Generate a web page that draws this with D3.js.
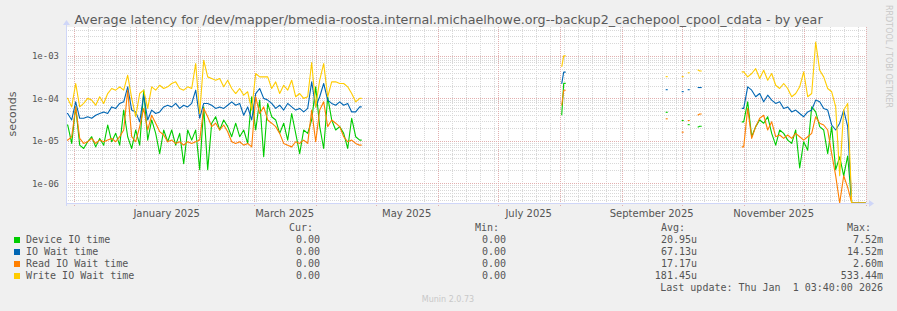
<!DOCTYPE html>
<html>
<head>
<meta charset="utf-8">
<script src="https://cdn.jsdelivr.net/npm/d3@7/dist/d3.min.js"></script>
<style>
    body { margin: 0; background: #F0F0F0; }
    svg { display: block; }
</style>
</head>
<body>
<svg id="CANVAS" width="897" height="311"></svg>
<script>

    // ---- data (microseconds) ----
    // Nov 27 2024 .. Apr 2025, one value every 2 days
    var seg1Start = "2024-11-27";
    var deviceA = [23.6, 8.7, 63, 7.9, 6.6, 9.5, 12.5, 7.2, 11.4, 7.9,
        23.6, 9.5, 15, 7.9, 53, 12.5, 6.6, 18, 7.9, 156,
        10.4, 31, 15, 5.0, 18, 9.5, 18, 7.9, 15, 2.9,
        18, 10.4, 18, 2.1, 63, 2.1, 26, 37, 18, 31,
        21.6, 12.5, 26, 12.5, 18, 8.7, 109, 18, 91, 4.2,
        76, 37, 31, 15, 26, 10.4, 44, 15, 5.0, 18,
        15, 31, 187, 21.6, 6.6, 109, 31, 18, 21.6, 15,
        6.6, 34, 12.5, 10.4];
    var waitA = [44, 31, 83, 34, 34, 37, 34, 40, 44, 48,
        44, 63, 58, 76, 83, 187, 53, 48, 28, 119,
        31, 53, 44, 48, 63, 69, 63, 76, 58, 69,
        63, 76, 156, 34, 76, 76, 69, 58, 63, 58,
        69, 83, 69, 76, 40, 63, 31, 130, 171, 100,
        91, 76, 58, 69, 53, 76, 63, 53, 58, 48,
        58, 245, 63, 109, 224, 91, 76, 69, 83, 69,
        76, 48, 48, 63];
    var readA = [10.4, 12.5, 63, 11.4, 8.7, 9.5, 11.4, 8.7, 10.4, 9.5,
        10.4, 11.4, 9.5, 12.5, 18, 156, 12.5, 9.5, 21.6, 58,
        18, 40, 26, 16.4, 13.7, 9.5, 10.4, 8.7, 9.5, 7.9,
        9.5, 8.7, 9.5, 10.4, 58, 37, 21.6, 26, 18, 23.6,
        16.4, 9.5, 8.7, 9.5, 7.9, 8.7, 7.2, 109, 44, 63,
        31, 26, 21.6, 15, 8.7, 7.9, 7.2, 9.5, 8.7, 10.4,
        8.7, 53, 9.5, 53, 83, 21.6, 31, 26, 21.6, 12.5,
        9.5, 10.4, 8.7, 7.9];
    var writeA = [100, 63, 224, 63, 76, 100, 91, 69, 109, 76,
        130, 171, 156, 187, 156, 351, 100, 37, 130, 156,
        58, 187, 156, 204, 171, 187, 224, 245, 171, 156,
        187, 171, 660, 44, 791, 321, 293, 268, 293, 187,
        268, 171, 130, 171, 119, 143, 53, 385, 321, 321,
        321, 171, 245, 130, 204, 156, 268, 109, 130, 100,
        109, 700, 63, 268, 660, 109, 245, 245, 224, 224,
        187, 130, 83, 100];

    // August blip, daily
    var seg2Dates = ["2025-08-02", "2025-08-03"];
    var deviceB = [40, 225];
    var waitB = [220, 415];
    var readB = [68, 155];
    var writeB = [550, 1000];

    // scattered single days, Sep/Oct
    var seg3Dates = ["2025-09-23", "2025-10-01", "2025-10-04", "2025-10-09", "2025-10-10"];
    var deviceC = [47, 30, 24, 21, 22];
    var waitC = [160, 144, 160, 180, 180];
    var readC = [33, 16, 30, 40, 43];
    var writeC = [325, 325, 400, 470, 440];

    // Oct 31 2025 .. end, one value every 2 days
    var seg4Start = "2025-10-31";
    var deviceD = [28, 83, 12.5, 21.6, 31, 26, 37, 15, 7.9, 18, 15, 10.4, 8.7, 18, 2.3, 9.5, 6, 63, 48, 21.6,
        18, 5.0, 21.6, 2.1, 4.2, 1.5, 4.4, 0, 0, 0, 0];
    var waitD = [58, 187, 156, 109, 130, 83, 119, 91, 76, 83, 58, 63, 48, 53, 44, 37, 48, 53, 91, 83,
        58, 53, 23.6, 18, 26, 53, 21.6, 0, 0, 0, 0];
    var readD = [7.2, 58, 11.4, 21.6, 34, 40, 18, 28, 12.5, 13.7, 11.4, 13.7, 11.4, 15, 12.5, 10.4, 12.5, 15, 37, 26,
        23.6, 18, 5.0, 1.5, 0, 1.5, 0.8, 0, 0, 0, 0];
    var writeD = [420, 321, 385, 500, 293, 460, 268, 385, 204, 171, 224, 171, 109, 130, 187, 420, 109, 130, 2130, 460,
        321, 171, 143, 63, 1.5, 53, 76, 0, 0, 0, 0];

    var names = ["Device IO time", "IO Wait time", "Read IO Wait time", "Write IO Wait time"];
    var colors = ["#00CC00", "#0066B3", "#FF8000", "#FFCC00"];
    var curTxt = ["0.00", "0.00", "0.00", "0.00"];
    var minTxt = ["0.00", "0.00", "0.00", "0.00"];
    var avgTxt = ["20.95u", "67.13u", "17.17u", "181.45u"];
    var maxTxt = ["7.52m", "14.52m", "2.60m", "533.44m"];
    var xLabelMonths = ["2025-01-01", "2025-03-01", "2025-05-01", "2025-07-01", "2025-09-01", "2025-11-01"];

    // ---- layout ----
    var W = 897, H = 311;
    var L = 66, R = 866, T = 27, B = 203;
    var AXIS = "#CFD6F8";

    var x = d3.scaleUtc()
        .domain([new Date("2024-11-27T03:40:00Z"), new Date("2026-01-01T03:40:00Z")])
        .range([L, R]);
    var y = d3.scaleLog()
        .domain([3.43e-7, 4.8e-3])
        .range([B, T]);
    var yMin = y.domain()[0];

    function pts(dates, vals, step) {
        return vals.map(function (v, i) {
            return { t: dates[i], v: v * 1e-6, step: step };
        });
    }
    function every(start, n, step) {
        var d0 = new Date(start + "T00:00:00Z");
        return d3.range(n).map(function (i) { return d3.utcDay.offset(d0, i * step); });
    }
    function parse(list) {
        return list.map(function (s) { return new Date(s + "T00:00:00Z"); });
    }

    var series = [
        [deviceA, deviceB, deviceC, deviceD],
        [waitA, waitB, waitC, waitD],
        [readA, readB, readC, readD],
        [writeA, writeB, writeC, writeD]
    ].map(function (s) {
        return pts(every(seg1Start, s[0].length, 2), s[0], 2)
            .concat(pts(parse(seg2Dates), s[1], 1))
            .concat(pts(parse(seg3Dates), s[2], 1))
            .concat(pts(every(seg4Start, s[3].length, 2), s[3], 2));
    });

    // split into runs of consecutive days
    function runs(p) {
        var out = [];
        p.forEach(function (d, i) {
            var joined = i > 0 && +d3.utcDay.offset(p[i - 1].t, p[i - 1].step) === +d.t;
            if (!joined) out.push([]);
            out[out.length - 1].push(d);
        });
        return out;
    }
    var yv = function (d) { return y(Math.max(d.v, yMin)); };
    var mid = function (d) { return x(d3.utcDay.offset(d.t, d.step / 2)); };

    // each run: flat start, straight segments between day centres, flat end
    function runPath(r) {
        var first = r[0], last = r[r.length - 1];
        var p = [[x(first.t), yv(first)]];
        r.forEach(function (d) { p.push([mid(d), yv(d)]); });
        p.push([x(d3.utcDay.offset(last.t, last.step)), yv(last)]);
        return d3.line()(p);
    }

    var svg = d3.select("#CANVAS");
    svg.append("rect").attr("width", W).attr("height", H).attr("fill", "#F0F0F0");
    svg.append("rect").attr("x", L).attr("y", T).attr("width", R - L).attr("height", B - T).attr("fill", "#FFFFFF");

    svg.append("defs").append("clipPath").attr("id", "plotclip")
        .append("rect").attr("x", L).attr("y", T - 1).attr("width", R - L).attr("height", B - T + 1);

    // ---- grid ----
    var grid = svg.append("g").attr("shape-rendering", "crispEdges");
    var yt = y.ticks();
    var isMajor = function (v) { return Math.abs(Math.log10(v) - Math.round(Math.log10(v))) < 1e-9; };
    var weeks = d3.utcSunday.range(x.domain()[0], x.domain()[1]);
    var months = d3.utcMonth.range(x.domain()[0], x.domain()[1]);

    grid.selectAll("line.hmin").data(yt.filter(function (v) { return !isMajor(v); }))
        .enter().append("line")
        .attr("x1", L).attr("x2", R)
        .attr("y1", function (d) { return Math.round(y(d)) + 0.5; })
        .attr("y2", function (d) { return Math.round(y(d)) + 0.5; })
        .attr("stroke", "#D8D8D8").attr("stroke-dasharray", "1,1");
    grid.selectAll("line.vmin").data(weeks)
        .enter().append("line")
        .attr("x1", function (d) { return Math.round(x(d)) + 0.5; })
        .attr("x2", function (d) { return Math.round(x(d)) + 0.5; })
        .attr("y1", T).attr("y2", B + 2)
        .attr("stroke", "#D8D8D8").attr("stroke-dasharray", "1,1");
    grid.selectAll("line.hmaj").data(yt.filter(isMajor))
        .enter().append("line")
        .attr("x1", L).attr("x2", R)
        .attr("y1", function (d) { return Math.round(y(d)) + 0.5; })
        .attr("y2", function (d) { return Math.round(y(d)) + 0.5; })
        .attr("stroke", "#E2AFAF").attr("stroke-dasharray", "1,1");
    grid.selectAll("line.vmaj").data(months)
        .enter().append("line")
        .attr("x1", function (d) { return Math.round(x(d)) + 0.5; })
        .attr("x2", function (d) { return Math.round(x(d)) + 0.5; })
        .attr("y1", T).attr("y2", B + 3)
        .attr("stroke", "#E2AFAF").attr("stroke-dasharray", "1,1");

    // ---- lines ----
    var lines = svg.append("g").attr("clip-path", "url(#plotclip)");
    series.forEach(function (p, i) {
        lines.selectAll(null).data(runs(p)).enter().append("path")
            .attr("d", runPath)
            .attr("fill", "none")
            .attr("stroke", colors[i])
            .attr("stroke-width", 1.1)
            .attr("stroke-linejoin", "round");
    });

    // ---- axes ----
    svg.append("line").attr("x1", L).attr("x2", R + 3).attr("y1", B + 0.5).attr("y2", B + 0.5)
        .attr("stroke", AXIS);
    svg.append("path").attr("d", "M" + (R + 3) + "," + (B - 3) + "L" + (R + 8) + "," + (B + 0.5) + "L" + (R + 3) + "," + (B + 4) + "Z")
        .attr("fill", AXIS);
    svg.append("line").attr("x1", L + 0.5).attr("x2", L + 0.5).attr("y1", B + 3).attr("y2", T - 2)
        .attr("stroke", AXIS);
    svg.append("path").attr("d", "M" + (L - 3) + "," + (T - 2) + "L" + (L + 0.5) + "," + (T - 7) + "L" + (L + 4) + "," + (T - 2) + "Z")
        .attr("fill", AXIS);

    svg.selectAll("text.ylab").data(yt.filter(isMajor))
        .enter().append("text")
        .attr("x", 59).attr("y", function (d) { return y(d) + 3.5; })
        .attr("text-anchor", "end")
        .style("font", "9px 'DejaVu Sans Mono'").attr("fill", "#555")
        .text(function (d) { return d3.format(".0e")(d).replace(/e([-+])(\d)$/, "e$10$2"); });

    svg.selectAll("text.xlab").data(parse(xLabelMonths))
        .enter().append("text")
        .attr("x", function (d) { return (x(d) + x(d3.utcMonth.offset(d, 1))) / 2; })
        .attr("y", 216.5)
        .attr("text-anchor", "middle")
        .style("font", "10px 'DejaVu Sans'").attr("fill", "#555")
        .text(d3.utcFormat("%B %Y"));

    svg.append("text")
        .attr("transform", "translate(15.5,114) rotate(-90)")
        .attr("text-anchor", "middle")
        .style("font", "11px 'DejaVu Sans'").attr("fill", "#555")
        .text("seconds");

    svg.append("text")
        .attr("x", 448.5).attr("y", 23.5)
        .attr("text-anchor", "middle")
        .style("font", "12.7px 'DejaVu Sans'").attr("fill", "#5a5a5a")
        .text("Average latency for /dev/mapper/bmedia-roosta.internal.michaelhowe.org--backup2_cachepool_cpool_cdata - by year");

    svg.append("text")
        .attr("transform", "translate(886,5) rotate(90)")
        .style("font", "8px 'DejaVu Sans'").attr("fill", "#C8C8C8")
        .text("RRDTOOL / TOBI OETIKER");

    // ---- legend ----
    var LF = "10px 'DejaVu Sans Mono'";
    var cols = [
        { head: "Cur:", hx: 313, vx: 320, vals: curTxt },
        { head: "Min:", hx: 499, vx: 506, vals: minTxt },
        { head: "Avg:", hx: 685, vx: 697, vals: avgTxt },
        { head: "Max:", hx: 871, vx: 883, vals: maxTxt }
    ];
    cols.forEach(function (c) {
        svg.append("text").attr("x", c.hx).attr("y", 230.5).attr("text-anchor", "end")
            .style("font", LF).attr("fill", "#555").text(c.head);
        svg.selectAll(null).data(c.vals).enter().append("text")
            .attr("x", c.vx).attr("y", function (d, i) { return 243 + i * 12; })
            .attr("text-anchor", "end")
            .style("font", LF).attr("fill", "#555")
            .text(function (d) { return d; });
    });
    var leg = svg.selectAll("g.leg").data(names).enter().append("g")
        .attr("transform", function (d, i) { return "translate(0," + (243 + i * 12) + ")"; });
    leg.append("rect").attr("x", 14).attr("y", -6).attr("width", 6).attr("height", 6)
        .attr("fill", function (d, i) { return colors[i]; });
    leg.append("text").attr("x", 26).attr("y", 0)
        .style("font", LF).attr("fill", "#555")
        .text(function (d) { return d; });

    svg.append("text").attr("x", 883).attr("y", 291).attr("text-anchor", "end")
        .style("font", LF).attr("fill", "#555").style("white-space", "pre").attr("xml:space", "preserve")
        .text("Last update: Thu Jan  1 03:40:00 2026");

    svg.append("text").attr("x", 448).attr("y", 302).attr("text-anchor", "middle")
        .style("font", "8px 'DejaVu Sans'").attr("fill", "#C8C8C8")
        .text("Munin 2.0.73");

</script>
</body>
</html>
